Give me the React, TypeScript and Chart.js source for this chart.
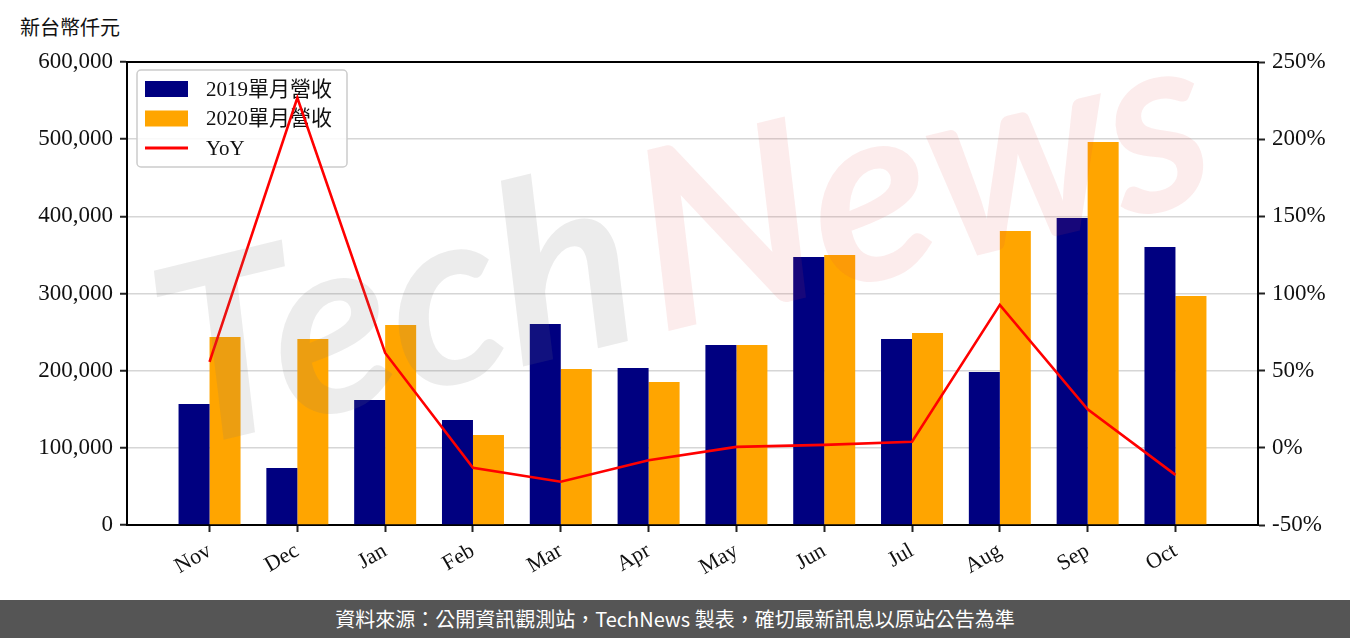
import React, { useEffect, useRef } from "react";
import { Chart, registerables } from "chart.js";

Chart.register(...registerables);

const months = ["Nov", "Dec", "Jan", "Feb", "Mar", "Apr", "May", "Jun", "Jul", "Aug", "Sep", "Oct"];
const rev2019 = [156800, 73900, 162000, 136000, 260500, 203400, 233300, 347300, 241000, 198300, 397800, 360200];
const rev2020 = [243600, 241000, 259200, 116600, 202200, 185300, 233300, 349900, 248800, 381000, 496300, 296700];
const yoy = [55.7, 226.8, 61.5, -13, -22, -8, 0.6, 1.9, 3.9, 92.6, 25, -17.5];
const leftTicks = [0, 100000, 200000, 300000, 400000, 500000, 600000];
const rightTicks = [-50, 0, 50, 100, 150, 200, 250];
const labels2019 = "2019單月營收";
const labels2020 = "2020單月營收";
const labelYoY = "YoY";

const SERIF = "'Liberation Serif', 'DejaVu Serif', 'Noto Sans CJK TC', serif";

const legendPlugin = {
  id: "boxLegend",
  beforeDatasetsDraw(chart: any) {
    const ctx = chart.ctx;
    const ca = chart.chartArea;
    const x = ca.left + 10;
    const y = ca.top + 8;
    const w = 210;
    const h = 97;
    ctx.save();
    ctx.beginPath();
    if (ctx.roundRect) ctx.roundRect(x, y, w, h, 4);
    else ctx.rect(x, y, w, h);
    ctx.fillStyle = "rgba(255,255,255,0.85)";
    ctx.fill();
    ctx.strokeStyle = "#cccccc";
    ctx.lineWidth = 1.5;
    ctx.stroke();
    const items = [...chart.data.datasets].sort((a: any, b: any) => (a.legendOrder ?? 0) - (b.legendOrder ?? 0));
    items.forEach((ds: any, i: number) => {
      const cy = y + 19 + i * 29.5;
      if (ds.type === "line") {
        ctx.strokeStyle = ds.borderColor;
        ctx.lineWidth = 3;
        ctx.beginPath();
        ctx.moveTo(x + 8, cy);
        ctx.lineTo(x + 51, cy);
        ctx.stroke();
      } else {
        ctx.fillStyle = ds.backgroundColor;
        ctx.fillRect(x + 8, cy - 8, 43, 16);
      }
      ctx.fillStyle = "#111";
      ctx.font = `21px ${SERIF}`;
      ctx.textBaseline = "middle";
      ctx.textAlign = "left";
      ctx.fillText(ds.label, x + 69, cy + 1);
    });
    ctx.restore();
  },
};

const framePlugin = {
  id: "frameTop",
  afterDraw(chart: any) {
    const ctx = chart.ctx;
    const ca = chart.chartArea;
    ctx.save();
    // watermark
    ctx.translate(ca.left, ca.top);
    ctx.rotate(-0.24);
    ctx.font = "italic bold 250px Lato, 'Open Sans', sans-serif";
    ctx.textBaseline = "alphabetic";
    ctx.fillStyle = "rgba(120,120,120,0.14)";
    ctx.fillText("Tech", -40, 390);
    const tw = ctx.measureText("Tech").width;
    ctx.fillStyle = "rgba(225,70,70,0.10)";
    ctx.fillText("News", -40 + tw + 10, 390);
    ctx.restore();
    ctx.save();
    ctx.strokeStyle = "#000";
    ctx.lineWidth = 2;
    ctx.beginPath();
    ctx.moveTo(ca.left - 1, ca.top);
    ctx.lineTo(ca.right + 1, ca.top);
    ctx.stroke();
    ctx.restore();
  },
};

export default function App() {
  const ref = useRef<HTMLCanvasElement | null>(null);
  useEffect(() => {
    if (!ref.current) return;
    const chart = new Chart(ref.current, {
      type: "bar",
      data: {
        datasets: [
          {
            type: "line",
            label: labelYoY,
            legendOrder: 3,
            data: yoy.map((v, i) => ({ x: i, y: v })),
            borderColor: "#ff0000",
            backgroundColor: "#ff0000",
            borderWidth: 2.6,
            pointRadius: 0,
            tension: 0,
            yAxisID: "y1",
            order: 0,
          } as any,
          {
            type: "bar",
            label: labels2019,
            legendOrder: 1,
            data: rev2019.map((v, i) => ({ x: i, y: v })),
            backgroundColor: "#000080",
            borderWidth: 0,
            categoryPercentage: 0.706,
            barPercentage: 1,
            yAxisID: "y",
            order: 1,
          } as any,
          {
            type: "bar",
            label: labels2020,
            legendOrder: 2,
            data: rev2020.map((v, i) => ({ x: i, y: v })),
            backgroundColor: "#ffa500",
            borderWidth: 0,
            categoryPercentage: 0.706,
            barPercentage: 1,
            yAxisID: "y",
            order: 1,
          } as any,
        ],
      },
      options: {
        responsive: false,
        animation: false,
        devicePixelRatio: 1,
        layout: { padding: { top: 62, left: 0, right: 0, bottom: 0 } },
        plugins: { legend: { display: false }, tooltip: { enabled: false }, title: { display: false } },
        scales: {
          x: {
            type: "linear",
            min: -0.94,
            max: 11.94,
            offset: false,
            afterBuildTicks: (axis: any) => {
              axis.ticks = months.map((_, i) => ({ value: i }));
            },
            afterFit: (scale: any) => {
              scale.height = 75;
            },
            ticks: {
              autoSkip: false,
              minRotation: 30,
              maxRotation: 30,
              padding: 6,
              color: "#111",
              font: { family: SERIF, size: 22 },
              callback: (v: any) => months[Math.round(Number(v))] ?? "",
            },
            grid: { display: true, drawOnChartArea: false, offset: false, tickLength: 7, tickColor: "#222", tickWidth: 2 },
            border: { color: "#000", width: 2 },
          } as any,
          y: {
            type: "linear",
            position: "left",
            min: 0,
            max: 600000,
            afterBuildTicks: (axis: any) => {
              axis.ticks = leftTicks.map((v) => ({ value: v }));
            },
            afterFit: (scale: any) => {
              scale.width = 127;
            },
            ticks: {
              color: "#111",
              padding: 7,
              font: { family: SERIF, size: 23 },
              callback: (v: any) => Number(v).toLocaleString("en-US"),
            },
            grid: { color: "#d6d6d6", lineWidth: 1.5, tickLength: 7, tickColor: "#222", tickWidth: 2 },
            border: { color: "#000", width: 2 },
          } as any,
          y1: {
            type: "linear",
            position: "right",
            min: -50,
            max: 250,
            afterBuildTicks: (axis: any) => {
              axis.ticks = rightTicks.map((v) => ({ value: v }));
            },
            afterFit: (scale: any) => {
              scale.width = 92;
            },
            ticks: {
              color: "#111",
              padding: 7,
              font: { family: SERIF, size: 23 },
              callback: (v: any) => `${v}%`,
            },
            grid: { drawOnChartArea: false, tickLength: 7, tickColor: "#222", tickWidth: 2 },
            border: { color: "#000", width: 2 },
          } as any,
        },
      },
      plugins: [legendPlugin, framePlugin],
    });
    return () => chart.destroy();
  }, []);

  return (
    <div style={{ position: "fixed", left: 0, top: 0, width: 1350, height: 638, background: "#fff", overflow: "hidden" }}>
      <div
        style={{
          position: "absolute",
          left: 20,
          top: 14,
          fontFamily: "'Noto Sans CJK TC', sans-serif",
          fontSize: 20,
          color: "#111",
          lineHeight: "26px",
        }}
      >
        新台幣仟元
      </div>
      <canvas ref={ref} width={1350} height={600} style={{ position: "absolute", left: 0, top: 0, width: 1350, height: 600 }} />
      <div
        style={{
          position: "absolute",
          left: 0,
          top: 600,
          width: 1350,
          height: 38,
          background: "#555555",
          color: "#fff",
          fontFamily: "'Noto Sans CJK TC', 'Noto Sans', sans-serif",
          fontSize: 20,
          lineHeight: "38px",
          textAlign: "center",
        }}
      >
        資料來源：公開資訊觀測站，TechNews 製表，確切最新訊息以原站公告為準
      </div>
    </div>
  );
}
